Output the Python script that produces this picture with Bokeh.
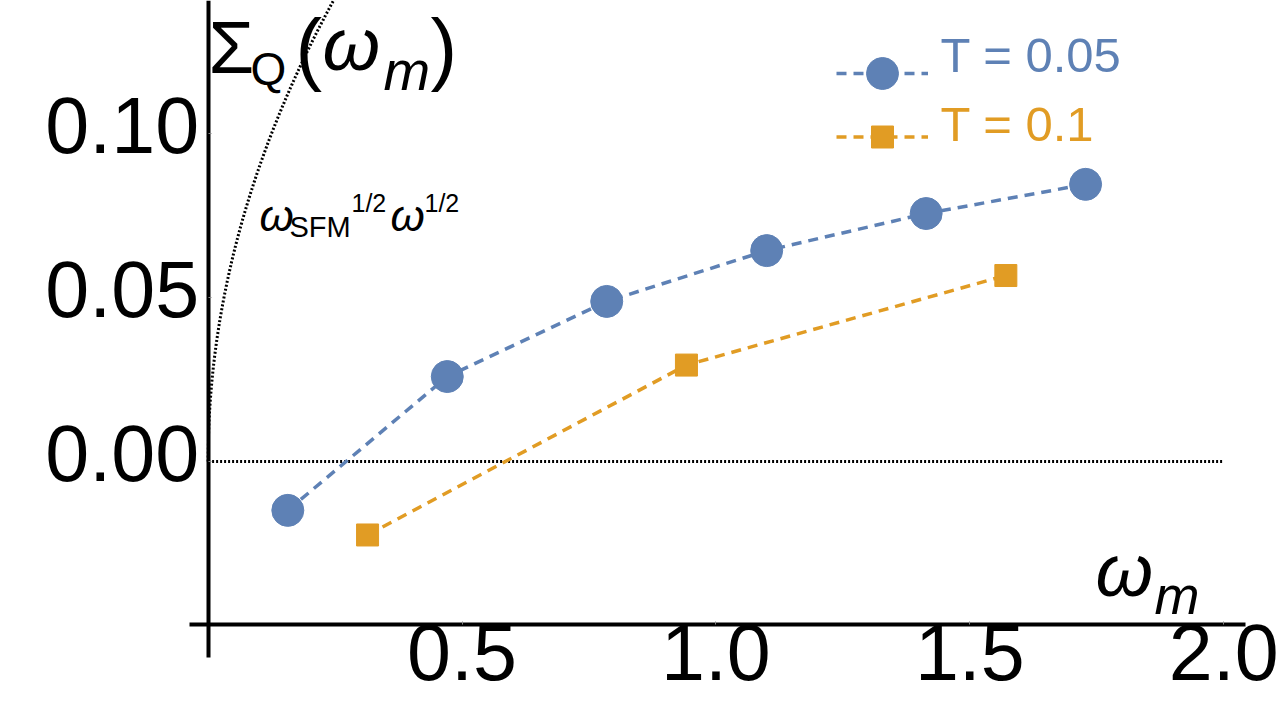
import numpy as np
from bokeh.plotting import figure
from bokeh.models import (Range1d, LinearAxis, FixedTicker, NumeralTickFormatter,
                          CustomJSTickFormatter, Label, Legend, LegendItem)
from bokeh.embed import file_html
from bokeh.resources import INLINE

# ---------------- data ----------------
omega_T005 = [0.157, 0.471, 0.785, 1.100, 1.414, 1.728]
sigma_T005 = [-0.0149, 0.0259, 0.0488, 0.0643, 0.0756, 0.0845]
omega_T01 = [0.314, 0.942, 1.571]
sigma_T01 = [-0.0224, 0.0294, 0.0567]
label_T005 = "T = 0.05"
label_T01 = "T = 0.1"
omega_SFM = 0.08
x_ticks = [0.5, 1.0, 1.5, 2.0]
y_ticks = [0.0, 0.05, 0.10]
zero_x = [0.0, 2.0]
zero_y = [0.0, 0.0]
x_axis_at = -0.0497

BLUE = "#5E81B5"
ORANGE = "#E19C24"
FONT = "Liberation Sans, Arial, sans-serif"

W, H = 1280, 717
X0, SX = 207.6, 507.8     # pixel of omega=0, pixels per unit
Y0, SY = 461.0, 3280.0    # pixel of sigma=0, pixels per unit
p = figure(width=W, height=H, output_backend="svg", toolbar_location=None,
           x_range=Range1d(-X0 / SX, (W - X0) / SX),
           y_range=Range1d((Y0 - H) / SY, Y0 / SY),
           x_axis_location=None, y_axis_location=None, min_border=0,
           background_fill_color="white", border_fill_color="white")
p.outline_line_color = None
p.grid.visible = False

# axes crossing (Mathematica style)
xa = LinearAxis(fixed_location=x_axis_at, bounds=(-0.0372, 2.0427),
                ticker=FixedTicker(ticks=x_ticks),
                formatter=NumeralTickFormatter(format="0.0"))
ya = LinearAxis(fixed_location=0, bounds=(-0.0598, Y0 / SY),
                ticker=FixedTicker(ticks=y_ticks),
                formatter=CustomJSTickFormatter(code="return ''"))
for ax in (xa, ya):
    ax.axis_line_width = 4
    ax.axis_line_color = "black"
    ax.major_tick_in = 3
    ax.major_tick_out = 0
    ax.major_tick_line_color = "#888888"
    ax.minor_tick_line_color = None
    ax.major_label_text_font = FONT
    ax.major_label_text_font_size = "79px"
    ax.major_label_text_color = "black"
xa.major_label_standoff = 0
p.add_layout(xa, "below")
p.add_layout(ya, "left")

# y tick labels: renderer draws them ~8px low, so anchor them a little higher
lift = 8.0 / SY
ya_lab = LinearAxis(fixed_location=0, ticker=FixedTicker(ticks=[t + lift for t in y_ticks]),
                    formatter=CustomJSTickFormatter(args=dict(lift=lift),
                                                    code="return (tick - lift).toFixed(2)"),
                    axis_line_color=None, major_tick_line_color=None,
                    minor_tick_line_color=None, major_label_standoff=3,
                    major_label_text_font=FONT, major_label_text_font_size="79px",
                    major_label_text_color="black")
p.add_layout(ya_lab, "left")

# reference lines
p.line(zero_x, zero_y, line_dash="2 2", line_width=3, color="black")
w_curve = np.linspace(0.0, 0.3, 300)
p.line(w_curve, np.sqrt(omega_SFM * w_curve), line_dash="2 2", line_width=3, color="black")

# data
l1 = p.line(omega_T005, sigma_T005, line_dash="10 7", line_width=3.5, color=BLUE)
s1 = p.scatter(omega_T005, sigma_T005, marker="circle", size=32, color=BLUE)
l2 = p.line(omega_T01, sigma_T01, line_dash="10 7", line_width=3.5, color=ORANGE)
s2 = p.scatter(omega_T01, sigma_T01, marker="square", size=22, color=ORANGE)

def sy(Y):
    return H - Y

def make_legend(rends, loc, gh):
    return Legend(items=[LegendItem(label=" ", renderers=rends)], location=loc,
                  glyph_width=92, glyph_height=gh, padding=0, margin=0, spacing=0,
                  label_standoff=0, label_width=1, label_text_font_size="10px",
                  border_line_color=None, background_fill_alpha=0)

# legend glyph boxes: centres at (882, 72.7) and (882, 136)
p.add_layout(make_legend([l1, s1], (836, sy(72.7 + 40)), 80))
p.add_layout(make_legend([l2, s2], (836, sy(136 + 27.5)), 55))

def lab(txt, X, Y, size, italic=False, color="black", font=FONT):
    # Y is the wanted baseline (pixels from top); compensate renderer offset
    p.add_layout(Label(x=X, y=sy(Y - 0.38 * size), x_units="screen", y_units="screen",
                       text=txt, text_font=font, text_font_size=f"{size}px",
                       text_font_style="italic" if italic else "normal",
                       text_color=color, text_baseline="alphabetic", text_align="left"))

# legend texts
lab(label_T005, 940, 73, 49, color=BLUE)
lab(label_T01, 940, 142, 49, color=ORANGE)

# y label  Σ_Q(ω_m)
lab("Σ", 208, 75, 74)
lab("Q", 250, 86, 46)
lab("(", 295, 77, 80)
lab("ω", 322, 72, 74, italic=True)
lab("m", 383, 91, 56, italic=True)
lab(")", 430, 77, 80)

# x label ω_m
lab("ω", 1095, 598, 74, italic=True)
lab("m", 1154, 615, 54, italic=True)

# curve annotation ω_SFM^{1/2} ω^{1/2}
lab("ω", 259, 232, 44, italic=True)
lab("SFM", 289, 238, 29)
lab("1/2", 351, 212, 25)
lab("ω", 390, 232, 44, italic=True)
lab("1/2", 424, 212, 25)

open("out.html", "w").write(file_html(p, INLINE))
